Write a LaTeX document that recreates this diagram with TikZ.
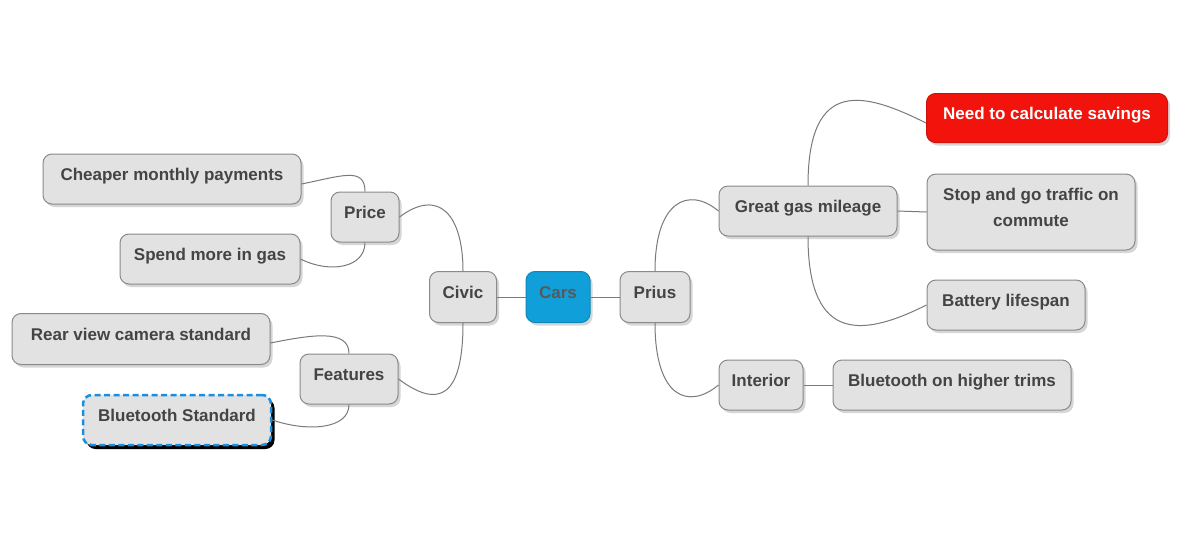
\documentclass[tikz,border=0pt]{standalone}
\usepackage{fontspec}
\setmainfont{Liberation Sans}
\usetikzlibrary{shadows}
\definecolor{boxfill}{HTML}{E2E2E2}
\definecolor{boxline}{HTML}{8A8A8A}
\definecolor{txt}{HTML}{444444}
\definecolor{carsblue}{HTML}{119FD9}
\definecolor{needred}{HTML}{F2140C}
\definecolor{dashblue}{HTML}{1A8FE0}
\definecolor{conn}{HTML}{7A7A7A}
\tikzset{
  topic/.style={draw=boxline, fill=boxfill, line width=1pt, rounded corners=9pt,
    text=txt, font=\fontsize{17}{26}\selectfont\bfseries, align=center, inner sep=0pt,
    text depth=9pt,
    drop shadow={shadow xshift=2.5pt, shadow yshift=-3pt, fill=black!40, opacity=0.4}},
  conn/.style={draw=conn, line width=1pt},
}
\begin{document}
\begin{tikzpicture}[x=1pt,y=-1pt]
\useasboundingbox (0,0) rectangle (1200,557);
\fill[white] (0,0) rectangle (1200,557);
% nodes
\node[topic, minimum width=258pt, minimum height=50pt] (cheap) at (172,179) {Cheaper monthly payments};
\node[topic, minimum width=68pt, minimum height=50pt] (price) at (365,217) {Price};
\node[topic, minimum width=180pt, minimum height=50pt] (spend) at (210,259) {Spend more in gas};
\node[topic, minimum width=258pt, minimum height=51pt] (rear) at (141,339) {Rear view camera standard};
\node[topic, minimum width=98pt, minimum height=50pt] (feat) at (349,379) {Features};
\node[topic, draw=dashblue, line width=2.5pt, dash pattern=on 6pt off 3.5pt,
  drop shadow={shadow xshift=3.5pt, shadow yshift=-4pt, fill=black, opacity=1},
  minimum width=188pt, minimum height=50pt] (bts) at (177,420) {Bluetooth Standard};
\node[topic, minimum width=67pt, minimum height=51pt] (civic) at (463,297) {Civic};
\node[topic, fill=carsblue, draw=carsblue!85!black, text=black!65, minimum width=64pt, minimum height=51pt] (cars) at (558,297) {Cars};
\node[topic, minimum width=70pt, minimum height=51pt] (prius) at (655,297) {Prius};
\node[topic, minimum width=178pt, minimum height=50pt] (ggm) at (808,211) {Great gas mileage};
\node[topic, fill=needred, draw=needred!85!black, text=white, minimum width=241pt, minimum height=49pt] (need) at (1047,118) {Need to calculate savings};
\node[topic, minimum width=208pt, minimum height=76pt] (stop) at (1031,212) {Stop and go traffic on\\commute};
\node[topic, minimum width=158pt, minimum height=50pt] (batt) at (1006,305) {Battery lifespan};
\node[topic, minimum width=84pt, minimum height=50pt] (int) at (761,385) {Interior};
\node[topic, minimum width=238pt, minimum height=50pt] (bht) at (952,385) {Bluetooth on higher trims};
% connectors
\draw[conn] (cars.west) -- (civic.east);
\draw[conn] (cars.east) -- (prius.west);
\draw[conn] (price.east) .. controls +(40,-30) and +(0,-55) .. (civic.north);
\draw[conn] (feat.east) .. controls +(40,30) and +(0,75) .. (civic.south);
\draw[conn] ([yshift=-5pt]cheap.east) .. controls +(40,-8) and +(0,-25) .. (price.north);
\draw[conn] (spend.east) .. controls +(30,15) and +(0,25) .. (price.south);
\draw[conn] ([yshift=-4pt]rear.east) .. controls +(40,-8) and +(0,-25) .. (feat.north);
\draw[conn] (bts.east) .. controls +(35,12) and +(0,25) .. (feat.south);
\draw[conn] (prius.north) .. controls +(0,-70) and +(-30,-25) .. (ggm.west);
\draw[conn] (prius.south) .. controls +(0,75) and +(-30,25) .. (int.west);
\draw[conn] (ggm.north) .. controls +(0,-110) and +(-60,-30) .. ([yshift=-5pt]need.west);
\draw[conn] (ggm.south) .. controls +(0,110) and +(-60,30) .. (batt.west);
\draw[conn] (ggm.east) -- (stop.west);
\draw[conn] (int.east) -- (bht.west);
\end{tikzpicture}
\end{document}
